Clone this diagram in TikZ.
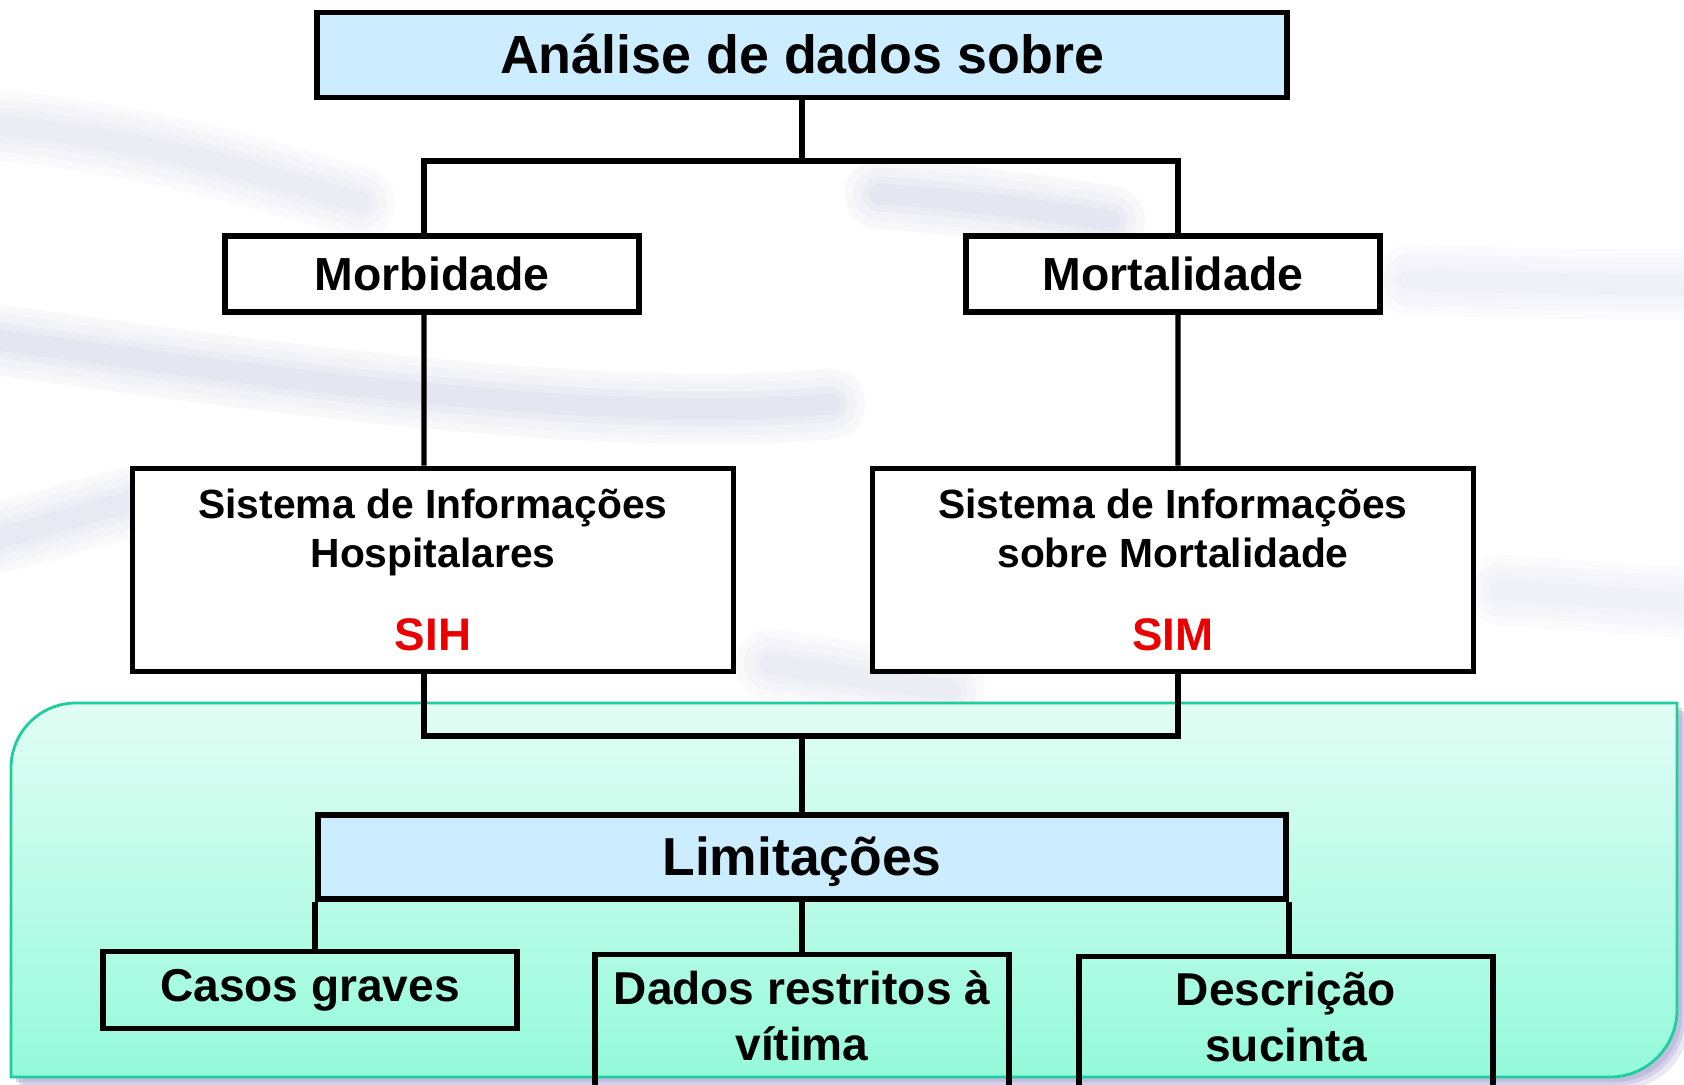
\documentclass[tikz,border=0pt]{standalone}
\usepackage{fontspec}
\setmainfont{Liberation Sans}
\usetikzlibrary{positioning}
\definecolor{titleblue}{RGB}{204,236,255}
\definecolor{mintlight}{RGB}{226,253,244}
\definecolor{mintdark}{RGB}{148,250,218}
\definecolor{mintedge}{RGB}{30,206,156}
\definecolor{siglared}{RGB}{235,0,0}
\definecolor{haze}{RGB}{150,150,200}
\definecolor{shadowlilac}{RGB}{172,166,210}
\tikzset{
	x=0.01cm, y=-0.01cm, % one unit is one pixel of the slide, y runs downwards
	box/.style={draw, line width=1.6pt, align=center, inner sep=0pt}, % the framed boxes
	headbox/.style={box, fill=titleblue, minimum width=9.69cm, minimum height=0.85cm, text height=10.5pt, text depth=0pt, font=\fontsize{15.3}{18}\selectfont\bfseries},
	groupbox/.style={box, fill=white, minimum width=4.14cm, minimum height=0.76cm, font=\fontsize{13.2}{16}\selectfont\bfseries},
	sysbox/.style={box, fill=white, minimum width=6.01cm, minimum height=2.03cm, font=\fontsize{11.6}{14}\selectfont\bfseries},
	limbox/.style={box, minimum width=4.14cm, minimum height=0.77cm, font=\fontsize{13.1}{15.9}\selectfont\bfseries},
	cutbox/.style={limbox, anchor=north, inner ysep=4.6pt, text depth=1.5cm}, % boxes running off the slide
	link/.style={line width=1.5pt}, % connectors
	swoosh/.style={haze, line cap=round}, % blurred strokes of the slide background
}
\begin{document}
\begin{tikzpicture}
	\useasboundingbox (0,0) rectangle (1684,1085);
	\clip (0,0) rectangle (1684,1085);
	\fill[white] (0,0) rectangle (1684,1085);
	% background strokes, drawn a few times to look blurred
	\foreach \w in {20,15,10,6}
		\foreach \band/\o in {
			{(-30,122) .. controls (160,140) and (260,175) .. (360,202)}/0.045,
			{(-30,336) .. controls (250,375) and (600,425) .. (830,404)}/0.06,
			{(880,194) .. controls (960,199) and (1040,210) .. (1110,221)}/0.06,
			{(1410,280) .. controls (1500,282) and (1600,286) .. (1710,284)}/0.03,
			{(-30,545) .. controls (40,528) and (90,512) .. (130,502)}/0.05,
			{(1500,590) .. controls (1560,594) and (1640,600) .. (1710,604)}/0.03,
			{(770,664) .. controls (820,672) and (900,684) .. (950,690)}/0.045
		}
		\draw[swoosh, line width=\w pt, opacity=\o] \band;
	% shadow and panel of the lower part
	\foreach \s/\o in {12/0.25, 8/0.35, 5/0.45}
		\fill[shadowlilac, opacity=\o, shift={(\s,\s)}] (11,1077) -- (11,768) .. controls (11,732) and (40,703) .. (76,703) -- (1677,703) -- (1677,1010) .. controls (1677,1047) and (1647,1077) .. (1610,1077) -- cycle;
	\shadedraw[top color=mintlight, bottom color=mintdark, draw=mintedge, line width=0.8pt] (11,1077) -- (11,768) .. controls (11,732) and (40,703) .. (76,703) -- (1677,703) -- (1677,1010) .. controls (1677,1047) and (1647,1077) .. (1610,1077) -- cycle;

	\node[headbox] (top) at (802,55) {Análise de dados sobre};
	\node[groupbox] (morb) at (432,274) {Morbidade};
	\node[groupbox] (mort) at (1173,274) {Mortalidade};
	\node[sysbox] (sih) at (433,570) {Sistema de Informações\\Hospitalares\\[9.6pt]{\color{siglared}\fontsize{13}{14}\selectfont SIH}};
	\node[sysbox] (sim) at (1173,570) {Sistema de Informações\\sobre Mortalidade\\[9.6pt]{\color{siglared}\fontsize{13}{14}\selectfont SIM}};
	\node[headbox, minimum width=9.68cm, minimum height=0.84cm, font=\fontsize{15.2}{18}\selectfont\bfseries] (lim) at (802,857) {Limitações};
	\node[limbox] (casos) at (310,990) {Casos graves};
	\node[cutbox] (dados) at (802,951.5) {Dados restritos à\\vítima};
	\node[cutbox] (desc) at (1286,953.5) {Descrição\\sucinta};

	\coordinate (split) at (802,161);
	\coordinate (join) at (802,736);
	\draw[link] (top.south) -- (split)
		([xshift=-0.08cm]morb.north) |- (split) -| ([xshift=0.05cm]mort.north);
	\draw[link] ([xshift=-0.08cm]morb.south) -- ([xshift=-0.09cm]sih.north)
		([xshift=0.05cm]mort.south) -- ([xshift=0.05cm]sim.north);
	\draw[link] ([xshift=-0.09cm]sih.south) |- (join) -| ([xshift=0.05cm]sim.south)
		(join) -- (lim.north);
	\draw[link] (lim.south west) -- (lim.south west |- casos.north)
		(dados.north) -- (lim.south)
		(lim.south east) -- (lim.south east |- desc.north);
\end{tikzpicture}
\end{document}
